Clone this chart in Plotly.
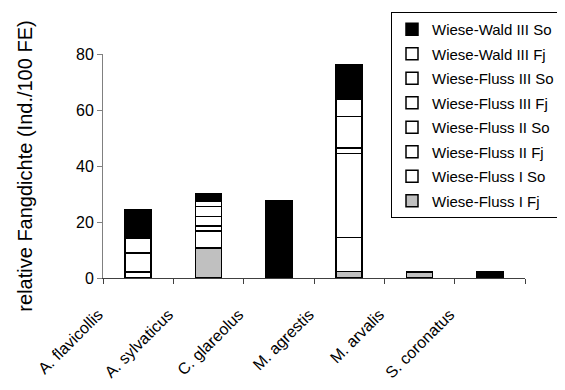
import plotly.graph_objects as go

categories = ["A. flavicollis", "A. sylvaticus", "C. glareolus", "M. agrestis", "M. arvalis", "S. coronatus"]

series_names = [
    "Wiese-Fluss I Fj", "Wiese-Fluss I So", "Wiese-Fluss II Fj", "Wiese-Fluss II So",
    "Wiese-Fluss III Fj", "Wiese-Fluss III So", "Wiese-Wald III Fj", "Wiese-Wald III So",
]
fluss_I_fj = [None, 10.7, None, 2.3, 2.1, None]
fluss_I_so = [2.1, 6.0, None, 12.2, None, None]
fluss_II_fj = [6.8, 1.8, None, 29.9, None, None]
fluss_II_so = [None, 3.5, None, 2.0, None, None]
fluss_III_fj = [None, 3.6, None, 11.3, None, None]
fluss_III_so = [None, 1.8, None, None, None, None]
wald_III_fj = [5.4, None, None, 6.3, None, None]
wald_III_so = [10.1, 2.7, 27.7, 12.0, None, 2.1]

series_values = [fluss_I_fj, fluss_I_so, fluss_II_fj, fluss_II_so,
                 fluss_III_fj, fluss_III_so, wald_III_fj, wald_III_so]
series_colors = ["#C0C0C0", "#FFFFFF", "#FFFFFF", "#FFFFFF",
                 "#FFFFFF", "#FFFFFF", "#FFFFFF", "#000000"]

y_ticks = [0, 20, 40, 60, 80]

FONT = "Liberation Sans, Arial, sans-serif"

fig = go.Figure()
for i, (name, vals, col) in enumerate(zip(series_names, series_values, series_colors)):
    fig.add_trace(go.Bar(
        x=categories, y=vals, name=name, legendgroup=name, legendrank=1000 - i,
        marker=dict(color=col, line=dict(color="black", width=1.5)),
    ))

# plot area: x 95..517, y-axis 46..270; paper top extended upward for the legend
TOP = 4
fig.update_layout(
    width=565, height=390,
    margin=dict(l=95, r=48, t=TOP, b=120, autoexpand=False),
    paper_bgcolor="white", plot_bgcolor="white",
    barmode="stack", bargap=0.63,
    font=dict(family=FONT, size=15, color="black"),
    showlegend=True,
    legend=dict(
        x=(383 - 95) / 422, y=1, xanchor="left", yanchor="top",
        traceorder="grouped", tracegroupgap=2,
        bordercolor="black", borderwidth=1, bgcolor="white",
        font=dict(family=FONT, size=15, color="black"),
        itemwidth=30,
    ),
)
fig.update_xaxes(
    type="category", range=[-0.5, 5.5],
    showline=True, linecolor="#404040", linewidth=1,
    ticks="outside", ticklen=5, tickcolor="#404040", tickson="boundaries",
    tickangle=-45, tickfont=dict(family=FONT, size=16),
    ticklabelshift=-40, ticklabelstandoff=20,
    showgrid=False, zeroline=False,
)
fig.update_yaxes(
    range=[0, 80], tickvals=y_ticks, domain=[0, 224 / (270 - TOP)],
    showline=True, linecolor="#808080", linewidth=1,
    ticks="outside", ticklen=5, tickcolor="#808080",
    tickfont=dict(family=FONT, size=16),
    showgrid=False, zeroline=False,
    title=dict(text="relative Fangdichte (Ind./100 FE)", font=dict(family=FONT, size=20), standoff=38),
)

fig.write_html("out.html")
